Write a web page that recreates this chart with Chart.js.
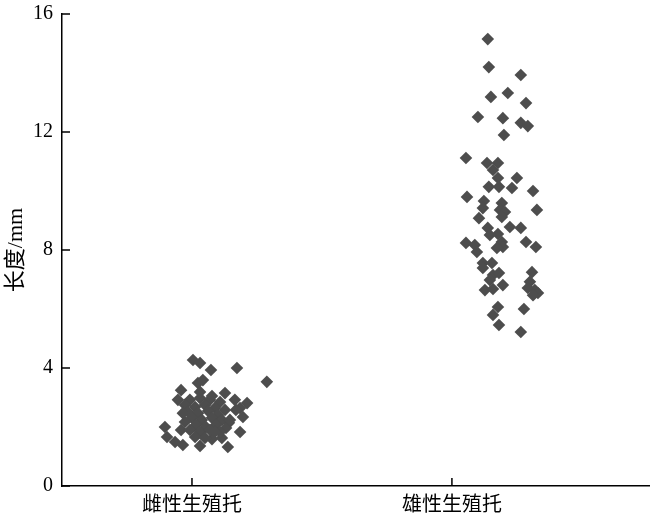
<!DOCTYPE html>
<html>
<head>
<meta charset="utf-8">
<script src="https://cdn.jsdelivr.net/npm/chart.js@4"></script>
<style>
  body { margin: 0; background: #fff; }
</style>
</head>
<body>
<canvas id="scatterChart" width="650" height="523"></canvas>
<script>
const categories = ["雌性生殖托", "雄性生殖托"];
const yTicks = [0, 4, 8, 12, 16];

// jittered x position (category units) and length in mm
const femaleX = [1.004,1.031,1.073,1.173,1.288,1.023,1.042,0.958,1.127,1.212,1.185,1.196,1.169,0.896,0.958,0.904,0.935,0.965,1.031,1.077,1.115,1.138,1.185,1.142,
  0.992,1.031,1.069,1.108,0.973,1.012,1.050,1.088,1.127,0.985,1.023,1.062,1.100,1.000,1.038,1.077,1.115,0.973,1.015,1.054,1.092,1.131,0.992,1.031,1.069,1.108,1.012,1.050,1.146,1.031,1.077,1.165,0.946,0.965,1.088];
const femaleY = [4.27,4.17,3.93,4.00,3.53,3.49,3.59,3.25,3.15,2.81,2.64,2.34,2.58,2.00,1.90,1.66,1.49,1.39,1.36,1.59,1.63,1.32,1.83,2.14,
  2.92,2.98,2.92,2.85,2.75,2.68,2.75,2.64,2.58,2.51,2.47,2.54,2.41,2.31,2.24,2.31,2.24,2.17,2.07,2.00,2.07,1.97,1.90,1.83,1.90,1.83,1.66,1.63,2.24,3.19,3.05,2.92,2.92,2.47,1.83];

const maleX = [2.138,2.142,2.265,2.150,2.215,2.285,2.100,2.196,2.265,2.292,2.200,2.054,2.135,2.177,2.158,2.177,2.250,2.142,2.181,2.231,2.312,2.058,2.123,2.119,2.192,2.185,2.204,2.327,2.104,2.192,2.138,2.223,2.265,2.177,2.146,2.323,2.285,2.054,2.088,2.192,2.196,2.173,2.096,2.119,2.154,2.119,2.158,2.181,2.146,2.196,2.127,2.158,2.308,2.300,2.292,2.319,2.331,2.312,2.277,2.177,2.158,2.181,2.265];
const maleY = [15.15,14.20,13.93,13.19,13.32,12.98,12.51,12.47,12.31,12.20,11.90,11.12,10.95,10.95,10.71,10.44,10.44,10.14,10.14,10.10,10.00,9.80,9.66,9.42,9.59,9.36,9.29,9.36,9.08,9.12,8.75,8.78,8.75,8.54,8.51,8.10,8.27,8.24,8.17,8.27,8.10,8.07,7.93,7.56,7.56,7.39,7.15,7.22,6.98,6.81,6.64,6.68,7.25,6.92,6.71,6.64,6.54,6.47,6.00,6.07,5.80,5.46,5.22];

const toPoints = (xs, ys) => xs.map((x, i) => ({ x: x, y: ys[i] }));

const serif = "'Liberation Serif', 'Noto Sans CJK SC', serif";
const markColor = "#4d4d4d";

/* inward tick marks */
const innerTicks = {
  id: "innerTicks",
  afterDraw(chart) {
    const c = chart.ctx, a = chart.chartArea;
    const xs = chart.scales.x, ys = chart.scales.y;
    c.save();
    c.strokeStyle = "#000";
    c.lineWidth = 1.5;
    c.beginPath();
    yTicks.forEach(v => {
      const py = ys.getPixelForValue(v);
      c.moveTo(a.left, py);
      c.lineTo(a.left + 8, py);
    });
    categories.forEach((_, i) => {
      const px = xs.getPixelForValue(i + 1);
      c.moveTo(px, a.bottom);
      c.lineTo(px, a.bottom - 8);
    });
    c.stroke();
    c.restore();
  }
};

new Chart(document.getElementById("scatterChart"), {
  type: "scatter",
  data: {
    datasets: [
      { label: categories[0], data: toPoints(femaleX, femaleY) },
      { label: categories[1], data: toPoints(maleX, maleY) }
    ]
  },
  options: {
    responsive: false,
    animation: false,
    layout: { autoPadding: false, padding: { top: 14, right: 0, left: 0, bottom: 0 } },
    elements: {
      point: {
        pointStyle: "rectRot",
        radius: 6.3,
        backgroundColor: markColor,
        borderColor: markColor,
        borderWidth: 0
      }
    },
    plugins: {
      legend: { display: false },
      tooltip: { enabled: false }
    },
    scales: {
      x: {
        type: "linear",
        min: 0.5,
        max: 2.762,
        afterBuildTicks: (scale) => {
          scale.ticks = categories.map((_, i) => ({ value: i + 1 }));
        },
        afterFit: (scale) => {
          scale.height = 37;
          scale.paddingLeft = 0;
          scale.paddingRight = 0;
        },
        ticks: {
          padding: 8,
          color: "#000",
          font: { family: serif, size: 20 },
          callback: (v) => categories[v - 1]
        },
        grid: { display: false, drawTicks: false },
        border: { display: true, color: "#000", width: 1.5 }
      },
      y: {
        min: 0,
        max: 16,
        afterBuildTicks: (scale) => {
          scale.ticks = yTicks.map(v => ({ value: v }));
        },
        afterFit: (scale) => {
          scale.width = 62;
          scale.paddingTop = 0;
          scale.paddingBottom = 0;
        },
        ticks: {
          padding: 9,
          color: "#000",
          font: { family: serif, size: 20 }
        },
        title: {
          display: true,
          text: "长度/mm",
          color: "#000",
          padding: { top: 3, bottom: 0 },
          font: { family: serif, size: 22 }
        },
        grid: { display: false, drawTicks: false },
        border: { display: true, color: "#000", width: 1.5 }
      }
    }
  },
  plugins: [innerTicks]
});
</script>
</body>
</html>
